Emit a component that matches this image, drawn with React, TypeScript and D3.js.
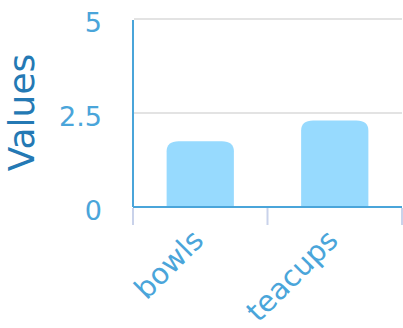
import React from "react";
import * as d3 from "d3";

const categories = ["bowls", "teacups"];
const values = [1.75, 2.3];
const yTicks = [0, 2.5, 5];
const yTickLabels = ["0", "2.5", "5"];

const W = 403;
const H = 328;
const left = 133;
const right = 402;
const top = 19;
const bottom = 207;

export default function App() {
  const x = d3.scaleBand<string>().domain(categories).range([left, right]).paddingInner(0.5).paddingOuter(0.25);
  const xb = d3.scaleBand<string>().domain(categories).range([left, right]);
  const y = d3.scaleLinear().domain([0, 5]).range([bottom, top]);
  const font = "DejaVu Sans, Verdana, sans-serif";
  const axisColor = "#4aa5da";
  const rx = 12;
  const ry = 10;
  const barPath = (cx0: number, w: number, v: number) => {
    const x0 = cx0;
    const x1 = cx0 + w;
    const yt = y(v);
    const yb = y(0);
    return `M${x0},${yb}L${x0},${yt + ry}Q${x0},${yt} ${x0 + rx},${yt}L${x1 - rx},${yt}Q${x1},${yt} ${x1},${yt + ry}L${x1},${yb}Z`;
  };
  const boundaries = [left, ...categories.map((c) => (xb(c) as number) + xb.bandwidth())];
  return (
    <svg width={W} height={H} style={{ position: "absolute", left: 0, top: 0 }} fontFamily={font}>
      {yTicks.filter((t) => t > 0).map((t) => (
        <line key={t} x1={left + 1} x2={right} y1={y(t)} y2={y(t)} stroke="#e3e3e3" strokeWidth={2} />
      ))}
      {categories.map((c, i) => (
        <path key={c} d={barPath(x(c) as number, x.bandwidth(), values[i])} fill="#97dafe" />
      ))}
      {boundaries.map((b, i) => (
        <line key={i} x1={b} x2={b} y1={bottom + 1} y2={bottom + 18} stroke="#c9d2ea" strokeWidth={2} />
      ))}
      <line x1={left} x2={left} y1={top + 1} y2={bottom} stroke={axisColor} strokeWidth={2} />
      <line x1={left} x2={right} y1={bottom} y2={bottom} stroke={axisColor} strokeWidth={2} />
      {yTicks.map((t, i) => (
        <text key={t} x={102} y={y(t) + 3} dy="0.36em" textAnchor="end" fontSize={27} fill={axisColor}>
          {yTickLabels[i]}
        </text>
      ))}
      {categories.map((c) => {
        const cx = (xb(c) as number) + xb.bandwidth() / 2 + 5;
        const cy = 242;
        return (
          <text key={c} x={cx} y={cy} textAnchor="end" fontSize={29} fill={axisColor} transform={`rotate(-45 ${cx} ${cy})`}>
            {c}
          </text>
        );
      })}
      <text x={34} y={112.5} textAnchor="middle" fontSize={36} fill="#2479b4" transform="rotate(-90 34 112.5)">
        Values
      </text>
    </svg>
  );
}
